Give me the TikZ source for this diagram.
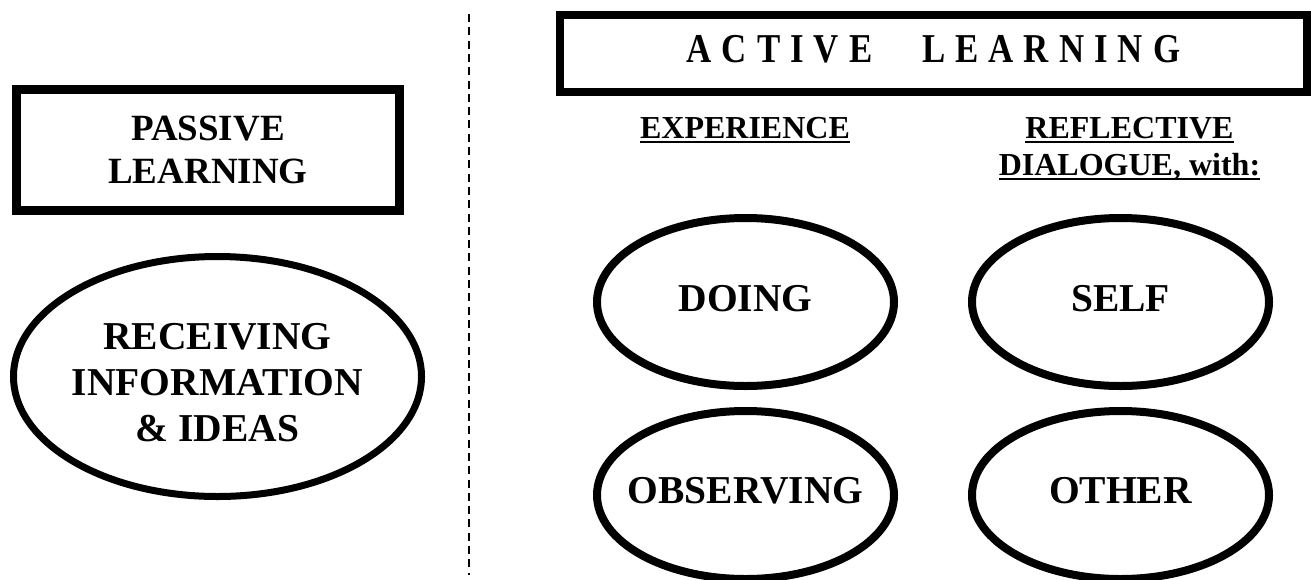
\documentclass[tikz,border=0pt]{standalone}
\usepackage{fontspec}
\setmainfont{Liberation Serif}
\newfontfamily\narrowserif{Liberation Serif}[FakeStretch=0.85]
\usetikzlibrary{shapes.geometric}
\newcommand{\ulword}[1]{\setbox0\hbox{#1}\rlap{\rule[-5pt]{\wd0}{2.5pt}}\box0}

\begin{document}
\begin{tikzpicture}[x=1pt,y=-1pt,
        bigtext/.style={font=\fontsize{39.5}{46}\selectfont\bfseries, align=center, inner sep=0pt},
        headtext/.style={font=\fontsize{32}{37}\selectfont\bfseries, align=center, inner sep=0pt, anchor=north},
        oval/.style={ellipse, draw, line width=8pt, minimum width=297pt, minimum height=168pt, inner sep=0pt},
        divider/.style={line width=2pt, dash pattern=on 8pt off 5.3pt}]
    \useasboundingbox (0,0) rectangle (1311,579);
    % left half
    \draw (208,150) node[draw, line width=9pt, minimum width=383.5pt, minimum height=121.5pt,
        align=center, font=\fontsize{37}{43}\selectfont\bfseries] (passive) {PASSIVE\\LEARNING};
    \draw (217.5,376.5) node[oval, line width=7pt, minimum width=408pt, minimum height=240pt,
        label={[bigtext, yshift=-6pt]center:{RECEIVING\\INFORMATION\\\& IDEAS}}] (receiving) {};
    % divider
    \coordinate (divtop) at (469,14);
    \coordinate (divbot) at (469,575);
    \draw [divider] (divtop) -- (divbot);
    % right half
    \draw (933.5,53.25) node[draw, line width=8pt, minimum width=747pt, minimum height=76.5pt,
        font=\narrowserif\fontsize{41}{48}\selectfont\bfseries] (active)
        {\raisebox{8pt}{\spaceskip=10pt A C T I V E\hspace{40pt} L E A R N I N G}};
    \draw (745,117) node[headtext] (experience) {\ulword{EXPERIENCE}};
    \draw (1129.5,117) node[headtext] (reflective) {\ulword{REFLECTIVE}\\\ulword{DIALOGUE, with:}};
    \draw (745.5,302) node[oval, label={[bigtext, yshift=3pt]center:DOING}] (doing) {};
    \draw (745.5,495) node[oval, label={[bigtext, yshift=4pt]center:OBSERVING}] (observing) {};
    \draw (1120.5,302) node[oval, label={[bigtext, yshift=3pt]center:SELF}] (self) {};
    \draw (1120.5,495) node[oval, label={[bigtext, yshift=4pt]center:OTHER}] (other) {};
\end{tikzpicture}
\end{document}
